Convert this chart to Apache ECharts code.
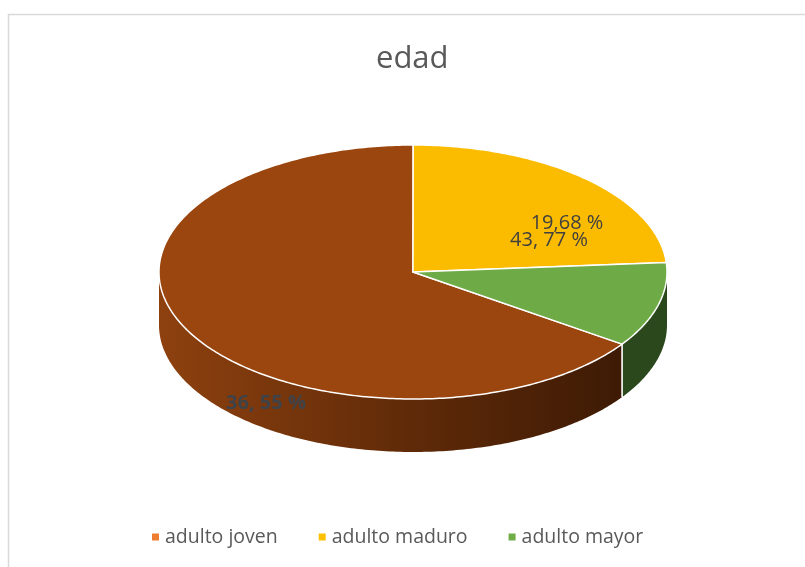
<!DOCTYPE html>
<html>
<head>
<meta charset="utf-8">
<script src="https://cdn.jsdelivr.net/npm/echarts@6/dist/echarts.min.js"></script>
<style>
  html, body { margin: 0; padding: 0; background: #ffffff; }
  #chart { width: 805px; height: 567px; }
</style>
</head>
<body>
<div id="chart"></div>
<script>
// Age groups and their share of the sample (percent)
const categories = ['adulto joven', 'adulto maduro', 'adulto mayor'];
const shares = [65.4, 23.8, 10.8];

// Free text notes placed on the pie
const notes = ['19,68 %', '43, 77 %', '36, 55 %'];

// Colours: pie faces, legend keys, lit/shaded side walls
const topColors = ['#9B460E', '#FBBC00', '#6EAB46'];
const legendColors = ['#ED7D31', '#FFC000', '#70AD47'];
const sideStops = [
  [[0, '#8E410F'], [0.5, '#5F2A08'], [0.92, '#3D1A05']],
  [[0, '#C99700'], [1, '#7A5C00']],
  [[0, '#30501F'], [1, '#2A481C']]
];

// Tilted pie geometry
const PIE = { cx: 413, cy: 272, rx: 254, ry: 127, depth: 53, firstSliceAngle: 124.6 };
const total = shares.reduce((a, b) => a + b, 0);

function pt(deg, dy) {
  const r = deg * Math.PI / 180;
  return [PIE.cx + PIE.rx * Math.sin(r), PIE.cy - PIE.ry * Math.cos(r) + (dy || 0)];
}

function arc(a1, a2, dy) {
  const pts = [];
  const n = Math.max(2, Math.ceil(Math.abs(a2 - a1) / 0.8));
  for (let k = 0; k <= n; k++) pts.push(pt(a1 + (a2 - a1) * k / n, dy));
  return pts;
}

function makeRenderer(idx) {
  return function (params, api) {
    let start = PIE.firstSliceAngle;
    for (let k = 0; k < idx; k++) start += shares[k] / total * 360;
    const end = start + api.value(0) / total * 360;
    const children = [];

    // side wall: only the front half of the rim (90..270 deg) is visible
    for (let w = -1; w <= 1; w++) {
      const lo = Math.max(start, 90 + 360 * w);
      const hi = Math.min(end, 270 + 360 * w);
      if (hi > lo) {
        const top = arc(lo, hi, 0);
        const bottom = arc(hi, lo, PIE.depth);
        children.push({
          type: 'polygon',
          z2: 1,
          shape: { points: top.concat(bottom) },
          style: {
            fill: {
              type: 'linear', x: PIE.cx - PIE.rx, y: 0, x2: PIE.cx + PIE.rx, y2: 0, global: true,
              colorStops: sideStops[idx].map(s => ({ offset: s[0], color: s[1] }))
            },
            stroke: null
          }
        });
      }
    }
    // white seam where a slice starts on the visible wall
    const s = ((start % 360) + 360) % 360;
    if (s > 90 && s < 270) {
      const p = pt(s, 0), q = pt(s, PIE.depth);
      children.push({
        type: 'line', z2: 3,
        shape: { x1: p[0], y1: p[1], x2: q[0], y2: q[1] },
        style: { stroke: '#ffffff', lineWidth: 1.6 }
      });
    }
    // top face
    children.push({
      type: 'polygon',
      z2: 5,
      shape: { points: [[PIE.cx, PIE.cy]].concat(arc(start, end, 0)) },
      style: { fill: topColors[idx], stroke: '#ffffff', lineWidth: 1.5, lineJoin: 'round' }
    });
    return { type: 'group', children: children };
  };
}

const chart = echarts.init(document.getElementById('chart'), null, { renderer: 'canvas' });

chart.setOption({
  animation: false,
  backgroundColor: '#ffffff',
  title: {
    text: 'edad',
    left: 371,
    top: 39,
    textStyle: { fontFamily: 'Open Sans', fontSize: 31, fontWeight: 'normal', color: '#595959' }
  },
  legend: {
    bottom: 15,
    left: 147,
    icon: 'rect',
    itemWidth: 7,
    itemHeight: 7,
    itemGap: 41,
    textStyle: { fontFamily: 'Open Sans', fontSize: 19.5, color: '#595959', padding: [0, 0, 0, 1] },
    data: categories.map((n, i) => ({ name: n, itemStyle: { color: legendColors[i] } }))
  },
  graphic: [
    {
      type: 'rect', silent: true, z: -1,
      shape: { x: 8.5, y: 14.5, width: 820, height: 600 },
      style: { fill: null, stroke: '#d9d9d9', lineWidth: 1.5 }
    },
    {
      type: 'text', z: 50, x: 567, y: 223,
      style: { text: notes[0], fill: '#404040', font: '20px "Open Sans"', textAlign: 'center', textVerticalAlign: 'middle' }
    },
    {
      type: 'text', z: 50, x: 549, y: 240,
      style: { text: notes[1], fill: '#404040', font: '20px "Open Sans"', textAlign: 'center', textVerticalAlign: 'middle' }
    },
    {
      type: 'text', z: 50, x: 266, y: 403,
      style: { text: notes[2], fill: '#3E434A', font: 'bold 20px "Open Sans"', textAlign: 'center', textVerticalAlign: 'middle' }
    }
  ],
  series: categories.map((name, i) => ({
    type: 'custom',
    name: name,
    coordinateSystem: 'none',
    itemStyle: { color: legendColors[i] },
    renderItem: makeRenderer(i),
    data: [shares[i]]
  }))
});
</script>
</body>
</html>
